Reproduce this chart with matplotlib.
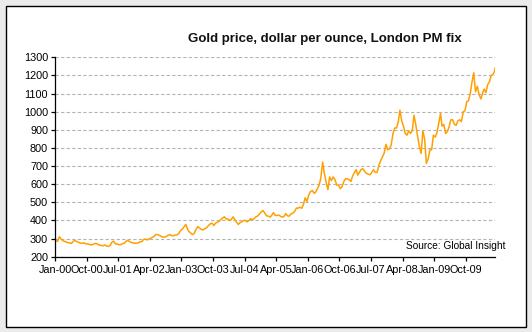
import datetime as dt
import matplotlib
matplotlib.use("Agg")
import matplotlib.pyplot as plt
import matplotlib.dates as mdates
from matplotlib.patches import Rectangle

plt.rcParams['font.family'] = ['Liberation Sans', 'DejaVu Sans']

# gold price, London PM fix, two readings per month (8th and 23rd), Jan 2000 - Jun 2010
years = list(range(2000, 2011))
prices = {
    2000: [288, 284, 310, 297, 290, 284, 281, 277, 276, 273, 285, 290,
           283, 280, 275, 274, 276, 271, 271, 268, 265, 267, 272, 273],
    2001: [268, 264, 261, 261, 265, 259, 257, 262, 280, 286, 270, 270,
           266, 267, 272, 274, 285, 290, 283, 278, 276, 274, 275, 277],
    2002: [282, 283, 296, 297, 293, 296, 302, 306, 312, 322, 322, 318,
           313, 308, 308, 312, 318, 322, 316, 316, 319, 320, 328, 343],
    2003: [352, 365, 378, 352, 338, 330, 322, 330, 352, 366, 358, 350,
           348, 355, 360, 372, 382, 385, 372, 385, 390, 395, 405, 413],
    2004: [420, 408, 408, 400, 405, 420, 405, 390, 378, 388, 393, 400,
           400, 392, 400, 410, 403, 412, 420, 425, 437, 448, 455, 440],
    2005: [425, 424, 418, 430, 443, 428, 427, 430, 423, 418, 423, 438,
           425, 424, 436, 440, 450, 468, 468, 473, 467, 488, 525, 505],
    2006: [540, 560, 565, 550, 555, 575, 595, 635, 722, 660, 610, 570,
           640, 620, 640, 625, 595, 595, 575, 585, 615, 630, 630, 625],
    2007: [615, 645, 665, 680, 650, 665, 682, 685, 670, 660, 655, 652,
           665, 680, 665, 665, 705, 730, 750, 770, 820, 790, 795, 815],
    2008: [880, 910, 910, 945, 1008, 950, 920, 880, 870, 895, 880, 895,
           980, 930, 865, 810, 770, 895, 850, 715, 740, 790, 790, 870],
    2009: [860, 885, 940, 990, 920, 930, 880, 890, 915, 955, 955, 930,
           925, 950, 955, 945, 1000, 1005, 1055, 1060, 1100, 1165, 1215, 1110],
    2010: [1140, 1095, 1070, 1105, 1125, 1105, 1150, 1165, 1200, 1205, 1225, 1240],
}

dates = []
values = []
for y in years:
    p = prices[y]
    for i, v in enumerate(p):
        month = i // 2 + 1
        day = 8 if i % 2 == 0 else 23
        if y == 2010 and i == len(p) - 1:
            day = 9
        dates.append(dt.date(y, month, day))
        values.append(v)

# category labels every 9 months: Jan-00 ... Oct-09
tick_dates = []
m = 0
while m <= 117:
    tick_dates.append(dt.date(2000 + m // 12, m % 12 + 1, 1))
    m += 9

fig = plt.figure(figsize=(5.32, 3.32), dpi=100)
fig.patch.set_facecolor('#ebebeb')

bg = fig.add_axes([0, 0, 1, 1], zorder=-10)
bg.set_xlim(0, 532)
bg.set_ylim(0, 332)
bg.axis('off')
bg.add_patch(Rectangle((5.5, 5.5), 520, 321, facecolor='white',
                       edgecolor='black', linewidth=1.0))

ax = fig.add_axes([55 / 532, 75.3 / 332, 440 / 532, 199.4 / 332])
ax.set_facecolor('none')
ax.plot(dates, values, color='#ffa000', linewidth=1.1)

ax.set_xlim(dt.date(2000, 1, 1), dt.date(2010, 6, 10))
ax.set_ylim(200, 1300)
ax.set_yticks(range(200, 1301, 100))
ax.set_xticks(tick_dates)
ax.xaxis.set_major_formatter(mdates.DateFormatter('%b-%y'))

ax.grid(axis='y', color='#b4b4b4', linestyle=(0, (3, 2)), linewidth=0.8)
ax.set_axisbelow(True)
for s in ['top', 'right']:
    ax.spines[s].set_visible(False)
for s in ['left', 'bottom']:
    ax.spines[s].set_linewidth(0.9)
ax.tick_params(axis='both', direction='out', labelsize=7.8, length=3, width=0.9, pad=2)
ax.tick_params(axis='x', pad=3)

fig.text(325 / 532, 1 - 39 / 332, "Gold price, dollar per ounce, London PM fix",
         ha='center', va='center', fontsize=9.5, fontweight='bold', color='#111111')
fig.text(505 / 532, 1 - 246 / 332, "Source: Global Insight",
         ha='right', va='center', fontsize=7.3)

fig.savefig("out.png", dpi=100, facecolor=fig.get_facecolor())
